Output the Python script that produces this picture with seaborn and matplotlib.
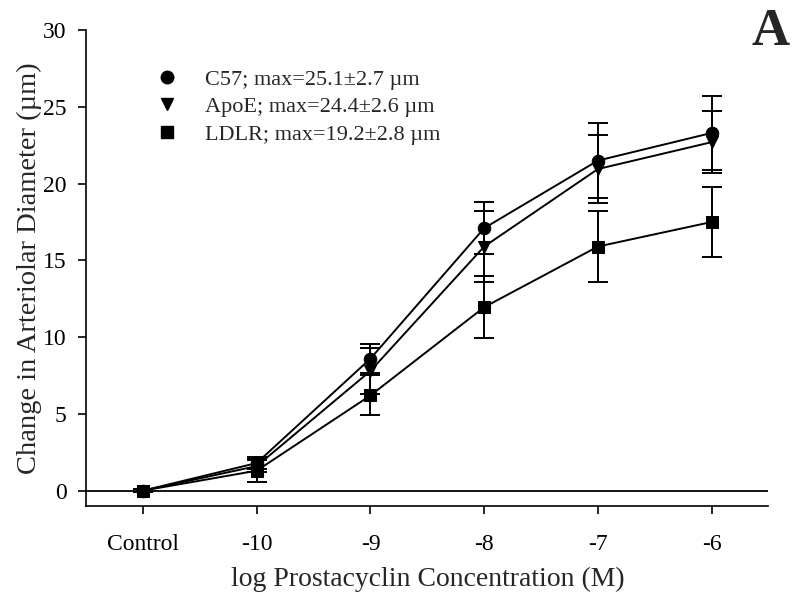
import pandas as pd
import numpy as np
import matplotlib.pyplot as plt
import seaborn as sns
from matplotlib.lines import Line2D

# Values
conc_labels = ['Control', '-10', '-9', '-8', '-7', '-6']
groups = ['C57; max=25.1\u00b12.7 \u00b5m', 'ApoE; max=24.4\u00b12.6 \u00b5m', 'LDLR; max=19.2\u00b12.8 \u00b5m']
group_markers = ['o', 'v', 's']

c57_mean = [0.0, 1.8, 8.6, 17.1, 21.5, 23.3]
c57_se = [0.1, 0.4, 0.95, 1.7, 2.45, 2.4]
apoe_mean = [0.0, 1.6, 7.8, 15.9, 20.95, 22.7]
apoe_se = [0.1, 0.4, 1.5, 2.3, 2.2, 2.0]
ldlr_mean = [0.0, 1.3, 6.2, 11.95, 15.9, 17.5]
ldlr_se = [0.1, 0.75, 1.3, 2.0, 2.3, 2.3]

means = [c57_mean, apoe_mean, ldlr_mean]
ses = [c57_se, apoe_se, ldlr_se]

# Long table for seaborn
rows = []
for g, m, s in zip(groups, means, ses):
    for i, lab in enumerate(conc_labels):
        rows.append({'pos': i, 'conc': lab, 'group': g, 'mean': m[i], 'se': s[i]})
df = pd.DataFrame(rows)

sns.set_style('ticks')
plt.rcParams['font.family'] = ['Liberation Serif', 'DejaVu Serif']

fig = plt.figure(figsize=(7.98, 6.02), dpi=100)
ax = fig.add_axes([0.108, 0.1595, 0.855, 0.7905])

ax.axhline(0, color='black', lw=1.3, zorder=1)

for g, mk in zip(groups, group_markers):
    sub = df[df['group'] == g]
    ax.errorbar(sub['pos'], sub['mean'], yerr=sub['se'], fmt='none', ecolor='black',
                elinewidth=1.4, capsize=7, capthick=1.4, zorder=2)

sns.lineplot(data=df, x='pos', y='mean', hue='group', style='group',
             markers=dict(zip(groups, group_markers)), dashes=False,
             palette=['black'] * 3, markersize=9, markeredgecolor='black',
             linewidth=1.4, legend=False, ax=ax, zorder=3)

ax.set_xlim(-0.5, 5.5)
ax.set_ylim(-1, 30)
ax.set_xticks(range(len(conc_labels)))
ax.set_xticklabels(conc_labels)
ax.set_yticks(np.arange(0, 31, 5))
ax.tick_params(axis='both', direction='out', length=6, width=1.2, labelsize=17, colors='black')
ax.tick_params(axis='x', pad=14)
ax.tick_params(axis='y', pad=8)
sns.despine(ax=ax)
for sp in ['left', 'bottom']:
    ax.spines[sp].set_linewidth(1.2)
    ax.spines[sp].set_color('black')

ax.set_xlabel('log Prostacyclin Concentration (M)', fontsize=20, labelpad=9)
ax.set_ylabel('Change in Arteriolar Diameter (\u00b5m)', fontsize=20.5, labelpad=1)

handles = [Line2D([], [], marker=mk, color='black', linestyle='none', markersize=9)
           for mk in group_markers]
ax.legend(handles, groups, loc='upper left', bbox_to_anchor=(0.099, 0.918), frameon=False,
          fontsize=16, handletextpad=1.1, labelspacing=0.31, handlelength=1.2,
          borderpad=0, borderaxespad=0)

fig.text(0.966, 0.925, 'A', fontsize=38, fontweight='bold', ha='center', va='baseline')

fig.savefig('out.png', dpi=100)
